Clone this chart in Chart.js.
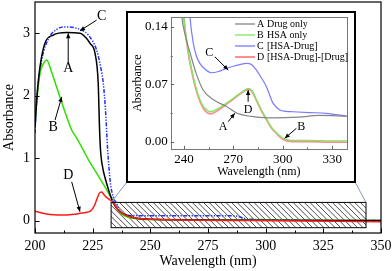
<!DOCTYPE html>
<html><head><meta charset="utf-8">
<script src="https://cdn.jsdelivr.net/npm/chart.js@4.4.0/dist/chart.umd.min.js"></script>
<style>
html,body{margin:0;padding:0;background:#fff;}
#wrap{position:relative;width:392px;height:271px;overflow:hidden;}
#main{position:absolute;left:0;top:0;}
#insetBox{position:absolute;left:126px;top:11px;width:230px;height:172px;background:#fff;}
#inset{position:absolute;left:0;top:0;}
</style></head><body>
<div id="wrap">
<canvas id="main" width="392" height="271"></canvas>
<div id="insetBox"><canvas id="inset" width="230" height="172"></canvas></div>
</div>
<script>
// ===== Main chart data =====
const mainTicksX = [200, 225, 250, 275, 300, 325, 350];
const mainMinorX = [212.5, 237.5, 262.5, 287.5, 312.5, 337.5];
const mainTicksY = [0, 1, 2, 3];

const wlA  = [200, 201, 202.2, 204.3, 207.9, 213.7, 219.5, 222, 223.8, 226, 227.4, 228, 228.4, 229, 231.1, 233.2, 234.7, 236.8, 239, 242.5, 249.8, 293, 350];
const absA = [1.5, 2.05, 2.47, 2.84, 2.97, 3.01, 3.0, 2.93, 2.84, 2.68, 2.2, 1.45, 1.13, 0.92, 0.59, 0.35, 0.23, 0.144, 0.096, 0.048, 0.02, 0.005, 0.0];

const wlB  = [200, 201, 202.2, 203.5, 205.1, 207, 209, 210.8, 213, 215.9, 218.1, 220.9, 223.5, 226.7, 229, 231.1, 233.9, 236.8, 239, 242.5, 250, 350];
const absB = [1.55, 2.0, 2.36, 2.5, 2.57, 2.4, 2.18, 1.98, 1.74, 1.45, 1.32, 1.13, 0.95, 0.76, 0.62, 0.49, 0.3, 0.13, 0.07, 0.035, 0.015, 0.0];

const wlC  = [200, 200.7, 202.9, 206.5, 209, 212.3, 218, 223.1, 226.7, 228.5, 229.6, 230.5, 231.1, 231.5, 232.7, 233.9, 235.4, 236.8, 239.7, 242.5, 250, 286, 293, 350];
const absC = [1.4, 1.93, 2.57, 2.95, 3.05, 3.1, 3.08, 2.97, 2.73, 2.45, 2.2, 1.8, 1.4, 1.13, 0.6, 0.38, 0.27, 0.15, 0.09, 0.08, 0.077, 0.075, 0.02, 0.0];

const wlD  = [200, 203, 206.5, 210, 213.7, 217, 219.5, 222, 223.8, 225, 226, 227.2, 228.2, 229, 229.6, 230.5, 231.8, 233.2, 234.5, 236.1, 239, 242.5, 250, 293, 350];
const absD = [0.15, 0.12, 0.095, 0.09, 0.09, 0.1, 0.115, 0.13, 0.145, 0.19, 0.26, 0.38, 0.45, 0.455, 0.43, 0.39, 0.35, 0.31, 0.25, 0.17, 0.09, 0.05, 0.02, 0.0, -0.02];

const zoomBoxX = [233, 343.5];
const zoomBoxY = [-0.115, 0.29];

// annotations: [label, labelX, labelY, fromX, fromY, toX, toY] in data units
const mainNotes = [
  ['C', 228.9, 3.27, 226.7, 3.21, 219.5, 3.04],
  ['A', 214.4, 2.44, 214.4, 2.54, 214.4, 3.0],
  ['B', 207.9, 1.5, 208.7, 1.61, 211.6, 1.98],
  ['D', 214.4, 0.73, 215.9, 0.62, 219.5, 0.14]
];

// ===== Inset data =====
const insTicksX = [240, 270, 300, 330];
const insMinorX = [255, 285, 315];
const insTicksY = [0, 0.07, 0.14];
const insMinorY = [0.035, 0.105];

const iwlA = [237, 238.7, 241, 243.8, 247.5, 251.7, 258, 265.9, 272, 284, 294, 310, 322, 339];
const iA   = [0.19, 0.152, 0.128, 0.108, 0.083, 0.063, 0.051, 0.043, 0.035, 0.030, 0.029, 0.030, 0.032, 0.031];

const iwlB = [238.5, 240, 242.5, 245.7, 248.5, 251.7, 253.8, 255.8, 258, 262, 265.9, 270, 274, 277, 279, 281, 284.1, 287, 290.1, 293, 296.2, 300, 304.2, 315, 330, 339];
const iB   = [0.19, 0.152, 0.112, 0.079, 0.058, 0.043, 0.039, 0.0365, 0.0375, 0.042, 0.047, 0.053, 0.059, 0.063, 0.065, 0.063, 0.051, 0.039, 0.028, 0.018, 0.011, 0.0045, 0.002, 0.0015, 0.001, 0.001];

const iwlC = [242.5, 243.7, 245.7, 247.5, 249.7, 253, 256.8, 261, 265.9, 270, 274, 278, 281, 284.1, 287, 290.1, 294.1, 298.2, 302, 306.2, 316, 326.4, 339];
const iC   = [0.19, 0.152, 0.12, 0.105, 0.0955, 0.088, 0.084, 0.0855, 0.0894, 0.092, 0.094, 0.0955, 0.094, 0.087, 0.078, 0.067, 0.047, 0.0386, 0.037, 0.0365, 0.0355, 0.0346, 0.031];

const iwlD = iwlB;
const iD   = [0.19, 0.15, 0.11, 0.077, 0.056, 0.041, 0.036, 0.034, 0.035, 0.040, 0.046, 0.052, 0.058, 0.062, 0.064, 0.062, 0.050, 0.038, 0.027, 0.017, 0.010, 0.003, 0.0005, 0, -0.0005, -0.0005];

const legendLetters = ['A', 'B', 'C', 'D'];
const legendTexts = ['Drug only', 'HSA only', '[HSA-Drug]', '[HSA-Drug]-[Drug]'];

const insNotes = [
  ['C', 255.4, 0.1077, 258.8, 0.1035, 266.9, 0.0873],
  ['D', 279, 0.0386, 279, 0.0487, 279, 0.063],
  ['A', 263.8, 0.0183, 266.9, 0.0244, 270.9, 0.0346],
  ['B', 311.3, 0.0183, 308.3, 0.0163, 301.2, 0.0041]
];

// ===== helpers =====
const SERIF = "'Liberation Serif', 'Times New Roman', serif";
const pts = (xs, ys) => xs.map((v, i) => ({x: v, y: ys[i]}));
const noPad = s => { s.paddingTop = 0; s.paddingBottom = 0; s.paddingLeft = 0; s.paddingRight = 0; };

function arrow(ctx, x1, y1, x2, y2, L, W) {
  ctx.beginPath(); ctx.moveTo(x1, y1); ctx.lineTo(x2, y2); ctx.stroke();
  const a = Math.atan2(y2 - y1, x2 - x1);
  ctx.beginPath(); ctx.moveTo(x2, y2);
  ctx.lineTo(x2 - L * Math.cos(a) + W * Math.sin(a), y2 - L * Math.sin(a) - W * Math.cos(a));
  ctx.lineTo(x2 - L * Math.cos(a) - W * Math.sin(a), y2 - L * Math.sin(a) + W * Math.cos(a));
  ctx.closePath(); ctx.fill();
}

function drawNotes(ctx, x, y, notes, size) {
  ctx.save();
  ctx.fillStyle = '#000'; ctx.strokeStyle = '#000'; ctx.lineWidth = 1;
  ctx.font = size + 'px ' + SERIF;
  ctx.textAlign = 'center'; ctx.textBaseline = 'middle';
  notes.forEach(n => {
    ctx.fillText(n[0], x.getPixelForValue(n[1]), y.getPixelForValue(n[2]));
    arrow(ctx, x.getPixelForValue(n[3]), y.getPixelForValue(n[4]), x.getPixelForValue(n[5]), y.getPixelForValue(n[6]), 5, 2.2);
  });
  ctx.restore();
}

function drawTicks(ctx, chart, xt, xm, yt, ym, maj, min, color) {
  const {chartArea: a, scales: {x, y}} = chart;
  ctx.save(); ctx.strokeStyle = color; ctx.lineWidth = 1;
  ctx.beginPath();
  xt.forEach(v => { const p = Math.round(x.getPixelForValue(v)) + 0.5; ctx.moveTo(p, a.bottom); ctx.lineTo(p, a.bottom - maj); });
  xm.forEach(v => { const p = Math.round(x.getPixelForValue(v)) + 0.5; ctx.moveTo(p, a.bottom); ctx.lineTo(p, a.bottom - min); });
  yt.forEach(v => { const p = Math.round(y.getPixelForValue(v)) + 0.5; ctx.moveTo(a.left, p); ctx.lineTo(a.left + maj, p); });
  ym.forEach(v => { const p = Math.round(y.getPixelForValue(v)) + 0.5; ctx.moveTo(a.left, p); ctx.lineTo(a.left + min, p); });
  ctx.stroke(); ctx.restore();
}

// ===== main chart =====
const mainDeco = {
  id: 'mainDeco',
  beforeDatasetsDraw(chart) {
    const {ctx, scales: {x, y}} = chart;
    const l = x.getPixelForValue(zoomBoxX[0]), r = x.getPixelForValue(zoomBoxX[1]);
    const t = y.getPixelForValue(zoomBoxY[1]), b = y.getPixelForValue(zoomBoxY[0]);
    ctx.save();
    ctx.beginPath(); ctx.rect(l, t, r - l, b - t); ctx.clip();
    ctx.strokeStyle = '#222'; ctx.lineWidth = 0.8;
    const h = b - t;
    for (let xx = l - h; xx < r; xx += 5.6) { ctx.beginPath(); ctx.moveTo(xx, t); ctx.lineTo(xx + h, b); ctx.stroke(); }
    ctx.restore();
  },
  afterDraw(chart) {
    const {ctx, chartArea: a, scales: {x, y}} = chart;
    ctx.save();
    ctx.strokeStyle = '#000'; ctx.lineWidth = 1.2;
    ctx.strokeRect(a.left, a.top, a.right - a.left, a.bottom - a.top);
    const l = x.getPixelForValue(zoomBoxX[0]), r = x.getPixelForValue(zoomBoxX[1]);
    const t = y.getPixelForValue(zoomBoxY[1]), b = y.getPixelForValue(zoomBoxY[0]);
    ctx.lineWidth = 1; ctx.strokeRect(l, t, r - l, b - t);
    const box = document.getElementById('insetBox');
    const bl = box.offsetLeft, br = box.offsetLeft + box.offsetWidth, bb = box.offsetTop + box.offsetHeight;
    ctx.strokeStyle = '#7b8bb0'; ctx.lineWidth = 0.9;
    ctx.beginPath(); ctx.moveTo(l, t); ctx.lineTo(bl + 1, bb - 1); ctx.moveTo(r, t); ctx.lineTo(br - 1, bb - 1); ctx.stroke();
    ctx.restore();
    drawTicks(ctx, chart, mainTicksX, mainMinorX, mainTicksY, [], 4.5, 2.5, '#000');
    drawNotes(ctx, x, y, mainNotes, 14);
  }
};

new Chart(document.getElementById('main'), {
  type: 'line',
  data: { datasets: [
    {label: 'D', data: pts(wlD, absD), borderColor: '#ff1a1a', borderWidth: 1.5},
    {label: 'A', data: pts(wlA, absA), borderColor: '#000000', borderWidth: 1.5},
    {label: 'B', data: pts(wlB, absB), borderColor: '#33dd00', borderWidth: 1.5},
    {label: 'C', data: pts(wlC, absC), borderColor: '#1f2fff', borderWidth: 1.5, borderDash: [4, 1.5, 1.3, 1.5, 1.3, 1.5]}
  ]},
  options: {
    responsive: false, animation: false,
    elements: { point: {radius: 0}, line: {cubicInterpolationMode: 'monotone', fill: false} },
    layout: { padding: {top: 2, right: 11, left: 0, bottom: 0} },
    plugins: { legend: {display: false}, tooltip: {enabled: false} },
    scales: {
      x: {
        type: 'linear', min: 200, max: 350,
        afterBuildTicks: s => { s.ticks = mainTicksX.map(v => ({value: v})); },
        afterFit: s => { s.height = 38; noPad(s); },
        grid: {display: false, drawTicks: false}, border: {display: false},
        ticks: {color: '#000', font: {family: SERIF, size: 14}, padding: 5, maxRotation: 0, autoSkip: false},
        title: {display: true, text: 'Wavelength (nm)', color: '#000', font: {family: SERIF, size: 14}, padding: {top: 0, bottom: 1}}
      },
      y: {
        type: 'linear', min: -0.2, max: 3.5,
        afterBuildTicks: s => { s.ticks = mainTicksY.map(v => ({value: v})); },
        afterFit: s => { s.width = 35; noPad(s); },
        grid: {display: false, drawTicks: false}, border: {display: false},
        ticks: {color: '#000', font: {family: SERIF, size: 14}, padding: 5, callback: v => String(v)},
        title: {display: true, text: 'Absorbance', color: '#000', font: {family: SERIF, size: 14}, padding: {top: 1, bottom: 0}}
      }
    }
  },
  plugins: [mainDeco]
});

// ===== inset chart =====
const insColors = ['#858585', '#7ee860', '#7a7aff', '#ff8e8e'];
const insDeco = {
  id: 'insDeco',
  afterDraw(chart) {
    const {ctx, chartArea: a, scales: {x, y}} = chart;
    ctx.save();
    ctx.strokeStyle = '#777'; ctx.lineWidth = 1;
    ctx.strokeRect(Math.round(a.left) + 0.5, Math.round(a.top) + 0.5, Math.round(a.right - a.left), Math.round(a.bottom - a.top));
    ctx.strokeStyle = '#000'; ctx.lineWidth = 2;
    ctx.strokeRect(1, 1, chart.width - 2, chart.height - 2);
    ctx.restore();
    drawTicks(ctx, chart, insTicksX, insMinorX, insTicksY, insMinorY, 3.5, 2, '#666');
    // legend
    ctx.save();
    ctx.font = '10px ' + SERIF; ctx.textBaseline = 'middle'; ctx.fillStyle = '#000';
    const lx = a.right - 112, rowY0 = a.top + 7, step = 11;
    legendLetters.forEach((L, i) => {
      const yy = rowY0 + i * step;
      ctx.strokeStyle = insColors[i]; ctx.lineWidth = i === 3 ? 2 : 1.3;
      ctx.beginPath(); ctx.moveTo(lx, yy); ctx.lineTo(lx + 20, yy); ctx.stroke();
      ctx.textAlign = 'left';
      ctx.fillText(L, lx + 22, yy);
      ctx.fillText(legendTexts[i], lx + 32, yy);
    });
    ctx.restore();
    drawNotes(ctx, x, y, insNotes, 12);
  }
};

new Chart(document.getElementById('inset'), {
  type: 'line',
  data: { datasets: [
    {label: 'A Drug only', data: pts(iwlA, iA), borderColor: insColors[0], borderWidth: 1.2},
    {label: 'C [HSA-Drug]', data: pts(iwlC, iC), borderColor: insColors[2], borderWidth: 1.2},
    {label: 'B HSA only', data: pts(iwlB, iB), borderColor: insColors[1], borderWidth: 1.3},
    {label: 'D [HSA-Drug]-[Drug]', data: pts(iwlD, iD), borderColor: insColors[3], borderWidth: 1.8}
  ]},
  options: {
    responsive: false, animation: false,
    elements: { point: {radius: 0}, line: {cubicInterpolationMode: 'monotone', fill: false} },
    layout: { padding: {top: 6, right: 9, left: 0, bottom: 0} },
    plugins: { legend: {display: false}, tooltip: {enabled: false} },
    scales: {
      x: {
        type: 'linear', min: 232, max: 339,
        afterBuildTicks: s => { s.ticks = insTicksX.map(v => ({value: v})); },
        afterFit: s => { s.height = 33.7; noPad(s); },
        grid: {display: false, drawTicks: false}, border: {display: false},
        ticks: {color: '#000', font: {family: SERIF, size: 13}, padding: 2, maxRotation: 0, autoSkip: false},
        title: {display: true, text: 'Wavelength (nm)', color: '#000', font: {family: SERIF, size: 12}, padding: {top: 0, bottom: 4}}
      },
      y: {
        type: 'linear', min: -0.0093, max: 0.152,
        afterBuildTicks: s => { s.ticks = insTicksY.map(v => ({value: v})); },
        afterFit: s => { s.width = 44.7; noPad(s); },
        grid: {display: false, drawTicks: false}, border: {display: false},
        ticks: {color: '#000', font: {family: SERIF, size: 13}, padding: 3, callback: v => Number(v).toFixed(2)},
        title: {display: true, text: 'Absorbance', color: '#000', font: {family: SERIF, size: 12}, padding: {top: 5, bottom: 0}}
      }
    }
  },
  plugins: [insDeco]
});
</script>
</body></html>
